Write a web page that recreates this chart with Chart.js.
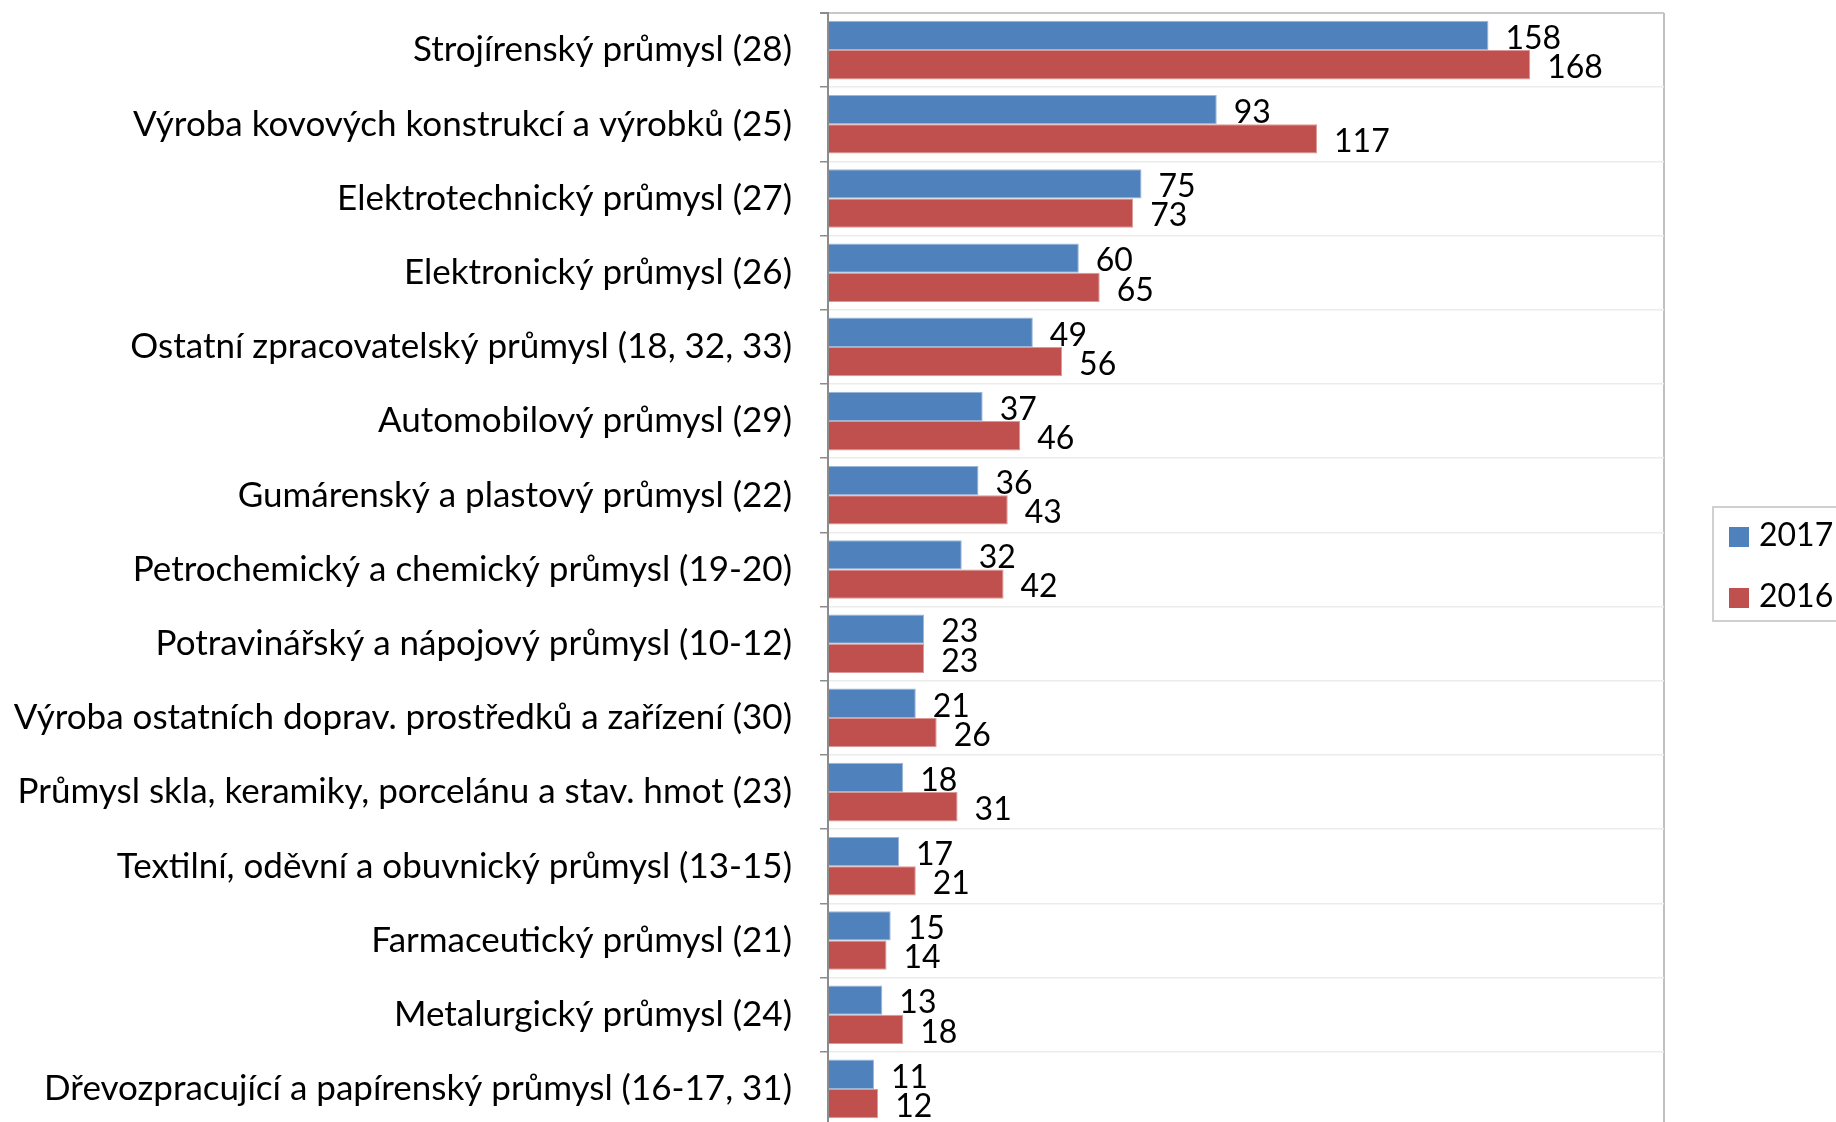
<!DOCTYPE html>
<html>
<head>
<meta charset="utf-8">
<script src="https://cdn.jsdelivr.net/npm/chart.js@4.4.1/dist/chart.umd.min.js"></script>
<style>
  html, body { margin: 0; padding: 0; background: #fff; overflow: hidden; }
  #wrap { position: relative; width: 1836px; height: 1140px; }
  #legend { position: absolute; left: 1712px; top: 506px; width: 160px; height: 116px;
    border: 2px solid #d0d0d0; box-sizing: border-box; font-family: Lato; font-size: 32px; }
  .item { position: absolute; left: 15px; }
  .item span.box { display: inline-block; width: 20px; height: 20px; margin-right: 10px; vertical-align: -1px; }
</style>
</head>
<body>
<div id="wrap">
  <canvas id="myChart" width="1836" height="1140"></canvas>
  <div id="legend"></div>
</div>
<script>
const categories = [
  'Strojírenský průmysl (28)',
  'Výroba kovových konstrukcí a výrobků (25)',
  'Elektrotechnický průmysl (27)',
  'Elektronický průmysl (26)',
  'Ostatní zpracovatelský průmysl (18, 32, 33)',
  'Automobilový průmysl (29)',
  'Gumárenský a plastový průmysl (22)',
  'Petrochemický a chemický průmysl (19-20)',
  'Potravinářský a nápojový průmysl (10-12)',
  'Výroba ostatních doprav. prostředků a zařízení (30)',
  'Průmysl skla, keramiky, porcelánu a stav. hmot (23)',
  'Textilní, oděvní a obuvnický průmysl (13-15)',
  'Farmaceutický průmysl (21)',
  'Metalurgický průmysl (24)',
  'Dřevozpracující a papírenský průmysl (16-17, 31)'
];
const values2017 = [158, 93, 75, 60, 49, 37, 36, 32, 23, 21, 18, 17, 15, 13, 11];
const values2016 = [168, 117, 73, 65, 56, 46, 43, 42, 23, 26, 31, 21, 14, 18, 12];

const FONT = 'Lato';

// popisky hodnot vedle sloupců
const barLabels = {
  id: 'barLabels',
  afterDatasetsDraw(chart) {
    const c = chart.ctx;
    c.save();
    c.font = '32px ' + FONT;
    c.fillStyle = '#000';
    c.textBaseline = 'middle';
    c.textAlign = 'left';
    chart.data.datasets.forEach((ds, i) => {
      chart.getDatasetMeta(i).data.forEach((bar, j) => {
        c.fillText(ds.data[j], bar.x + 17, bar.y + 3);
      });
    });
    c.restore();
  }
};

Chart.defaults.font.family = FONT;
Chart.defaults.font.size = 35;
Chart.defaults.color = '#000';

const chart = new Chart(document.getElementById('myChart'), {
  type: 'bar',
  data: {
    labels: categories,
    datasets: [
      { label: '2017', data: values2017, backgroundColor: '#4F81BD', borderColor: '#9bb7da', borderWidth: 1 },
      { label: '2016', data: values2016, backgroundColor: '#C0504D', borderColor: '#dc9896', borderWidth: 1 }
    ]
  },
  options: {
    indexAxis: 'y',
    responsive: false,
    animation: false,
    layout: { padding: { top: 13, right: 172, bottom: 14, left: 0 } },
    plugins: { legend: { display: false }, tooltip: { enabled: false } },
    datasets: { bar: { categoryPercentage: 0.79, barPercentage: 1 } },
    scales: {
      x: {
        min: 0, max: 200,
        afterFit(scale) { scale.height = 0; scale.paddingLeft = 0; scale.paddingRight = 0; },
        ticks: { display: false, stepSize: 20 },
        border: { display: false },
        grid: {
          drawTicks: false,
          color: ctx => ctx.tick && ctx.tick.value === 200 ? '#c0c0c0' : 'rgba(0,0,0,0)',
          lineWidth: 2
        }
      },
      y: {
        afterFit(scale) { scale.width = 828; scale.paddingTop = 0; scale.paddingBottom = 0; },
        ticks: { padding: 28, color: '#000' },
        border: { color: '#8c8c8c', width: 2 },
        grid: {
          offset: true,
          tickLength: 8,
          tickColor: '#8c8c8c',
          color: ctx => ctx.index === 0 ? '#c8c8c8' : '#ececec',
          lineWidth: ctx => ctx.index === 0 ? 2 : 1.5
        }
      }
    }
  },
  plugins: [barLabels]
});

const legend = document.getElementById('legend');
chart.data.datasets.forEach((ds, i) => {
  const d = document.createElement('div');
  d.className = 'item';
  d.style.top = (i === 0 ? 6 : 67) + 'px';
  d.innerHTML = '<span class="box" style="background:' + ds.backgroundColor + '"></span>' + ds.label;
  legend.appendChild(d);
});
</script>
</body>
</html>
